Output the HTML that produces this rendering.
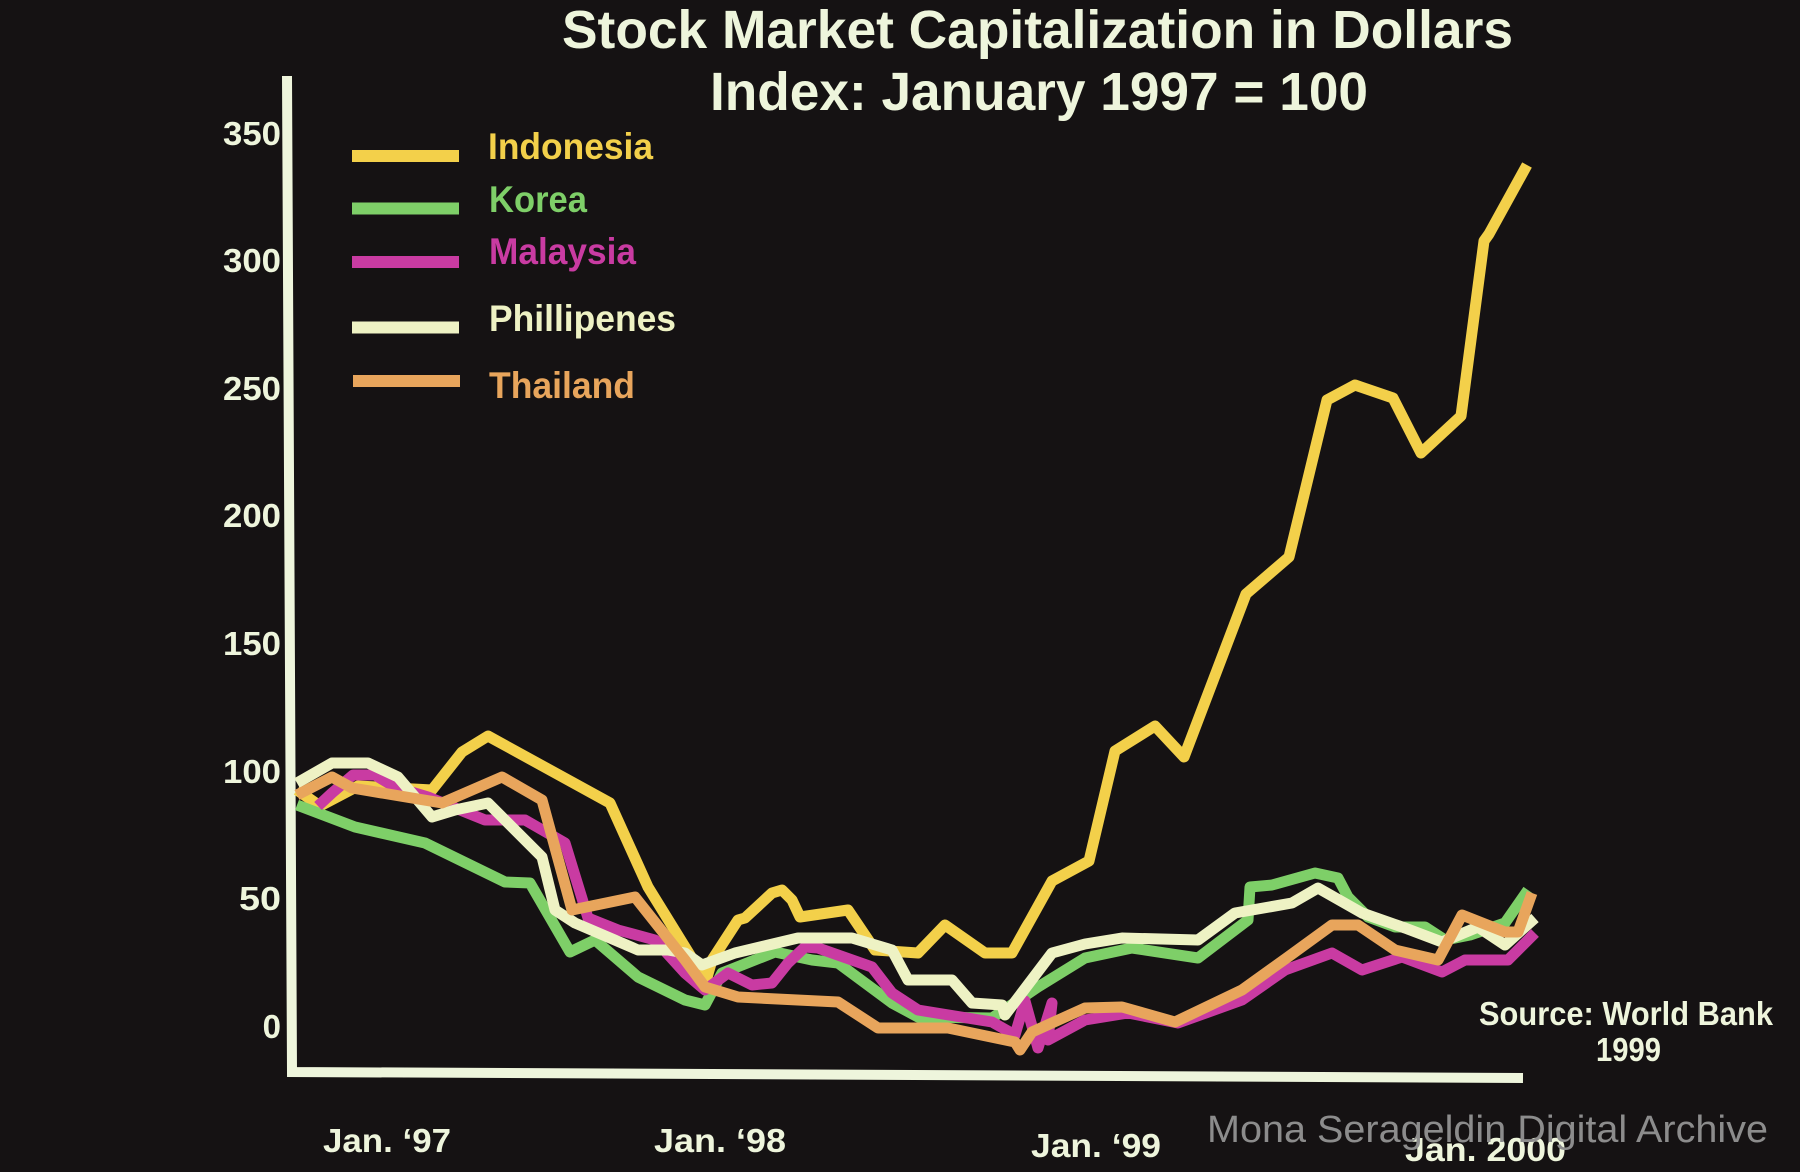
<!DOCTYPE html>
<html><head><meta charset="utf-8"><style>
html,body{margin:0;padding:0;background:#151213;}
svg{display:block;}
text{font-family:"Liberation Sans",Arial,sans-serif;font-weight:bold;}
</style></head><body>
<svg width="1800" height="1172" viewBox="0 0 1800 1172" xmlns="http://www.w3.org/2000/svg">
<rect x="0" y="0" width="1800" height="1172" fill="#151213"/>
<!-- Title -->
<text x="562" y="48" font-size="54" fill="#eef5dc" textLength="951" lengthAdjust="spacingAndGlyphs">Stock Market Capitalization in Dollars</text>
<text x="710" y="110" font-size="54" fill="#eef5dc" textLength="658" lengthAdjust="spacingAndGlyphs">Index: January 1997 = 100</text>
<!-- Y labels -->
<g font-size="33" fill="#eef5dc" text-anchor="end">
<text x="281" y="145" textLength="58" lengthAdjust="spacingAndGlyphs">350</text>
<text x="281" y="272" textLength="58" lengthAdjust="spacingAndGlyphs">300</text>
<text x="281" y="400" textLength="58" lengthAdjust="spacingAndGlyphs">250</text>
<text x="281" y="527" textLength="58" lengthAdjust="spacingAndGlyphs">200</text>
<text x="281" y="655" textLength="58" lengthAdjust="spacingAndGlyphs">150</text>
<text x="281" y="783" textLength="58" lengthAdjust="spacingAndGlyphs">100</text>
<text x="281" y="910" textLength="42" lengthAdjust="spacingAndGlyphs">50</text>
<text x="281" y="1038">0</text>
</g>
<!-- Axes -->
<polyline points="287,76 292,1072 1523,1078" fill="none" stroke="#eef5dc" stroke-width="10" stroke-linejoin="miter"/>
<!-- Legend -->
<g stroke-width="12">
<line x1="352" y1="156" x2="459" y2="156" stroke="#f3d04a"/>
<line x1="352" y1="208.5" x2="459" y2="208.5" stroke="#7ecf68"/>
<line x1="352" y1="262" x2="459" y2="262" stroke="#c93ba2"/>
<line x1="352" y1="327.5" x2="459" y2="327.5" stroke="#eef2c4"/>
<line x1="353" y1="381" x2="460" y2="381" stroke="#e8a55c"/>
</g>
<g font-size="37">
<text x="488" y="159" fill="#f3d04a" textLength="165" lengthAdjust="spacingAndGlyphs">Indonesia</text>
<text x="489" y="212" fill="#7ecf68" textLength="98" lengthAdjust="spacingAndGlyphs">Korea</text>
<text x="489" y="264" fill="#c93ba2" textLength="147" lengthAdjust="spacingAndGlyphs">Malaysia</text>
<text x="489" y="331" fill="#eef2c4" textLength="187" lengthAdjust="spacingAndGlyphs">Phillipenes</text>
<text x="489" y="398" fill="#e8a55c" textLength="146" lengthAdjust="spacingAndGlyphs">Thailand</text>
</g>
<!-- Series -->
<g fill="none" stroke-width="11" stroke-linejoin="round" stroke-linecap="butt">
<path stroke="#f3d04a" d="M297,790 L320,806 L358,786 L432,790 L462,752 L488,736 L610,803 L648,887 L706,981 L712,960 L738,920 L745,918 L772,893 L782,890 L792,900 L800,917 L848,910 L875,950 L918,953 L945,925 L985,953 L1012,953 L1052,881 L1089,861 L1115,751 L1155,726 L1184,757 L1246,594 L1289,557 L1327,400 L1355,385 L1393,398 L1421,453 L1461,416 L1484,241 L1489,234 L1527,165"/>
<path stroke="#7ecf68" d="M297,805 L355,827 L425,843 L505,882 L530,883 L570,952 L595,940 L638,977 L685,1000 L705,1005 L722,973 L775,952 L812,960 L838,963 L892,1003 L918,1017 L992,1018 L1038,987 L1085,958 L1132,948 L1198,958 L1248,920 L1250,887 L1272,885 L1315,873 L1338,878 L1348,897 L1368,917 L1395,927 L1425,927 L1445,940 L1470,935 L1505,923 L1528,890"/>
<path stroke="#c93ba2" d="M318,806 L332,793 L353,775 L375,775 L395,787 L428,797 L485,820 L525,820 L565,843 L588,918 L618,930 L655,940 L685,973 L705,990 L728,973 L752,985 L772,983 L788,963 L805,947 L818,948 L872,967 L892,993 L918,1010 L992,1022 L1015,1035 L1025,1001 L1038,1048 L1052,1003 L1048,1040 L1085,1020 L1128,1013 L1178,1023 L1242,1000 L1285,970 L1332,953 L1362,970 L1402,957 L1442,972 L1465,960 L1508,960 L1535,933"/>
<path stroke="#eef2c4" d="M297,783 L332,763 L368,763 L398,777 L432,817 L455,810 L488,803 L542,857 L555,910 L575,923 L638,950 L668,950 L685,953 L702,965 L735,953 L798,938 L852,938 L892,950 L908,980 L952,980 L972,1003 L1002,1005 L1005,1015 L1052,953 L1085,944 L1122,938 L1198,940 L1235,913 L1292,903 L1318,888 L1362,913 L1405,928 L1442,942 L1478,927 L1505,945 L1535,918"/>
<path stroke="#e8a55c" d="M297,795 L332,777 L352,788 L442,803 L502,777 L542,800 L572,910 L635,897 L685,960 L705,987 L738,997 L838,1002 L878,1028 L948,1028 L1015,1042 L1020,1050 L1032,1032 L1085,1008 L1122,1007 L1175,1022 L1242,990 L1288,957 L1332,925 L1358,925 L1395,950 L1438,960 L1462,915 L1505,932 L1518,932 L1532,893"/>
</g>
<!-- X labels -->
<g font-size="33" fill="#eef5dc">
<text x="323" y="1152" textLength="128" lengthAdjust="spacingAndGlyphs">Jan. ‘97</text>
<text x="654" y="1152" textLength="132" lengthAdjust="spacingAndGlyphs">Jan. ‘98</text>
<text x="1031" y="1157" textLength="130" lengthAdjust="spacingAndGlyphs">Jan. ‘99</text>
<text x="1405" y="1161" textLength="161" lengthAdjust="spacingAndGlyphs">Jan. 2000</text>
</g>
<!-- Source -->
<g font-size="33" fill="#eef5dc">
<text x="1479" y="1025" textLength="294" lengthAdjust="spacingAndGlyphs">Source: World Bank</text>
<text x="1596" y="1061" textLength="65" lengthAdjust="spacingAndGlyphs">1999</text>
</g>
<!-- Watermark -->
<text x="1207" y="1142" font-size="38" fill="#8c8c8c" style="font-weight:normal" textLength="561" lengthAdjust="spacingAndGlyphs">Mona Serageldin Digital Archive</text>
</svg>
</body></html>
